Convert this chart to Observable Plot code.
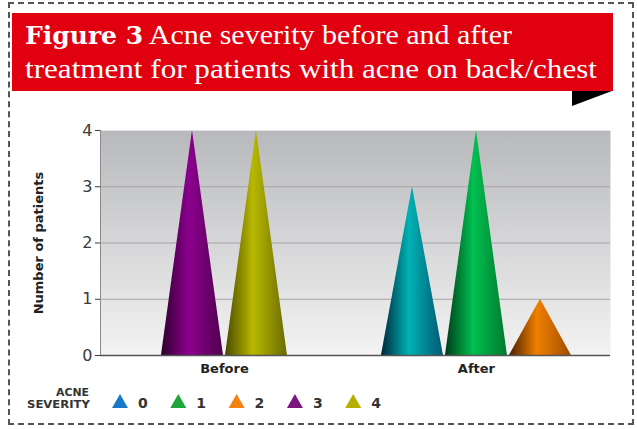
<!DOCTYPE html>
<html>
<head>
<meta charset="utf-8">
<script src="https://cdn.jsdelivr.net/npm/d3@7"></script>
<script src="https://cdn.jsdelivr.net/npm/@observablehq/plot@0.6"></script>
<style>
  html, body { margin: 0; padding: 0; background: #fff; }
  body { width: 637px; height: 429px; position: relative; overflow: hidden; }
  #border { position: absolute; left: 8px; top: 2px; width: 622px; height: 419px; border: 2px dashed #555; }
  #header, #chart, #legend { position: absolute; left: 0; }
  #header { top: 0; }
  #chart { top: 110px; }
  #legend { top: 380px; }
</style>
</head>
<body>
<div id="border"></div>
<svg id="header" width="637" height="110"></svg>
<div id="chart"></div>
<svg id="legend" width="637" height="45"></svg>
<script>
// ---- data ----
const titleBold = "Figure 3";
const titleLine1 = " Acne severity before and after";
const titleLine2 = "treatment for patients with acne on back/chest";
const yLabel = "Number of patients";
const legendTitle = ["ACNE", "SEVERITY"];
const categories = ["Before", "After"];
const severities = ["0", "1", "2", "3", "4"];
const beforeCounts = [0, 0, 0, 4, 4];
const afterCounts = [3, 4, 1, 0, 0];
const yTicks = [0, 1, 2, 3, 4];
const coneGradients = [
  ["#00263a", "#00b2b4", "#005872"],
  ["#003a18", "#00c050", "#00782e"],
  ["#4a1e00", "#f08000", "#a04c00"],
  ["#2e002e", "#8c008e", "#4e004e"],
  ["#4a4a00", "#b8b800", "#6a6a00"]
];
const legendColors = ["#1a78c8", "#1ea53c", "#f5820f", "#7a1680", "#b5b000"];

const sans = "DejaVu Sans, Verdana, sans-serif";

// ---- header ----
const red = "#e1000f";
const header = d3.select("#header");
header.append("rect").attr("x", 12).attr("y", 13).attr("width", 601).attr("height", 78).attr("fill", red);
header.append("polygon").attr("points", "572,91 612,91 572,106").attr("fill", "#000");
const t1 = header.append("text").attr("x", 25).attr("y", 44)
  .attr("font-size", 27).attr("fill", "#fff")
  .attr("textLength", 487).attr("lengthAdjust", "spacingAndGlyphs");
t1.append("tspan").attr("font-family", "DejaVu Serif").attr("font-weight", "bold")
  .style("font-stretch", "condensed").attr("font-size", 25).text(titleBold);
t1.append("tspan").attr("font-family", "Liberation Serif").attr("font-weight", "normal").text(titleLine1);
header.append("text").attr("x", 25).attr("y", 78)
  .attr("font-family", "Liberation Serif").attr("font-size", 27).attr("fill", "#fff")
  .attr("textLength", 572).attr("lengthAdjust", "spacingAndGlyphs")
  .text(titleLine2);

// ---- cone geometry from data ----
const slot = 0.254, half = 0.123;
const countsByCat = [beforeCounts, afterCounts];
const pts = [];
categories.forEach((cat, ci) => {
  const present = severities.map((s, si) => ({s, si, v: countsByCat[ci][si]})).filter(d => d.v > 0);
  const n = present.length;
  present.forEach((d, j) => {
    const c = ci + (j - (n - 1) / 2) * slot;
    const id = cat + "-" + d.s;
    const fill = `url(#cone${d.si})`;
    pts.push({id, fill, x: c - half, y: 0});
    pts.push({id, fill, x: c, y: d.v});
    pts.push({id, fill, x: c + half, y: 0});
  });
});

const xDomain = [-0.492, 1.532];
const chart = Plot.plot({
  width: 637,
  height: 275,
  marginLeft: 100,
  marginRight: 27,
  marginTop: 20,
  marginBottom: 30,
  style: {fontFamily: sans, fontSize: "16px", color: "#3a3a3a", background: "transparent"},
  x: {domain: xDomain, axis: null},
  y: {domain: [0, 4], ticks: yTicks, tickSize: 5, tickPadding: 3, tickFormat: d3.format("d"), label: null},
  color: {type: "identity"},
  marks: [
    Plot.frame({fill: "url(#bgGrad)", stroke: "none"}),
    Plot.ruleY(yTicks.filter(d => d > 0 && d < 4), {stroke: "#a4a4a6", strokeWidth: 1}),
    Plot.ruleY([4], {stroke: "#e4e4e4", strokeWidth: 1}),
    Plot.ruleX([xDomain[0]], {stroke: "#8a8a8a", strokeWidth: 1}),
    Plot.areaY(pts, {x: "x", y: "y", z: "id", fill: "fill", curve: "linear"}),
    Plot.ruleY([0], {stroke: "#555", strokeWidth: 1.5}),
    Plot.text(categories, {x: (d, i) => i, frameAnchor: "bottom", dy: 17, text: d => d,
      fontSize: 13, fontWeight: "bold", fill: "#222"}),
    Plot.text([yLabel], {frameAnchor: "left", dx: -62, rotate: -90, textAnchor: "middle", text: d => d,
      fontSize: 13, fontWeight: "bold", fill: "#222"})
  ]
});
document.getElementById("chart").appendChild(chart);

// gradient defs
const svg = d3.select(chart.tagName.toLowerCase() === "svg" ? chart : chart.querySelector("svg"));
const defs = svg.insert("defs", ":first-child");
const bg = defs.append("linearGradient").attr("id", "bgGrad").attr("x1", 0).attr("y1", 0).attr("x2", 0).attr("y2", 1);
bg.append("stop").attr("offset", "0%").attr("stop-color", "#b8b9bc");
bg.append("stop").attr("offset", "100%").attr("stop-color", "#f3f3f3");
coneGradients.forEach((g, i) => {
  const lg = defs.append("linearGradient").attr("id", "cone" + i).attr("x1", 0).attr("y1", 0).attr("x2", 1).attr("y2", 0);
  lg.append("stop").attr("offset", "0%").attr("stop-color", g[0]);
  lg.append("stop").attr("offset", "45%").attr("stop-color", g[1]);
  lg.append("stop").attr("offset", "100%").attr("stop-color", g[2]);
});
svg.selectAll("[aria-label=frame]").attr("fill", "url(#bgGrad)");
svg.selectAll("[aria-label=frame] rect").attr("fill", "url(#bgGrad)");

// ---- legend ----
const legend = d3.select("#legend");
legend.append("text").attr("x", 89).attr("y", 16).attr("text-anchor", "end")
  .attr("font-family", sans).attr("font-weight", "bold")
  .attr("font-size", 10).attr("fill", "#333")
  .attr("textLength", 33).attr("lengthAdjust", "spacingAndGlyphs").text(legendTitle[0]);
legend.append("text").attr("x", 90).attr("y", 28).attr("text-anchor", "end")
  .attr("font-family", sans).attr("font-weight", "bold")
  .attr("font-size", 10).attr("fill", "#333")
  .attr("textLength", 63).attr("lengthAdjust", "spacingAndGlyphs").text(legendTitle[1]);
severities.forEach((s, i) => {
  const cx = 120 + i * 58.3;
  legend.append("polygon")
    .attr("points", `${cx - 8},28 ${cx},14 ${cx + 8},28`)
    .attr("fill", legendColors[i]);
  legend.append("text").attr("x", cx + 18).attr("y", 28)
    .attr("font-family", sans).attr("font-weight", "bold")
    .attr("font-size", 14).attr("fill", "#333").text(s);
});
</script>
</body>
</html>
